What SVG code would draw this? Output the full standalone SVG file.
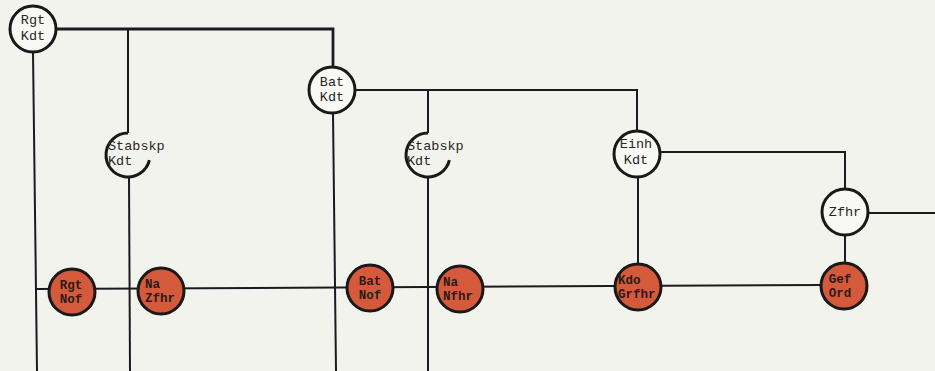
<svg xmlns="http://www.w3.org/2000/svg" width="935" height="371" viewBox="0 0 935 371">
<style>
.ln{stroke:#1c1a1e;stroke-width:2;fill:none;stroke-linecap:square}
.heavy{stroke-width:2.8}
.wc{fill:#f8f8f4;stroke:#1a1818;stroke-width:3}
.arc{fill:none;stroke:#1a1818;stroke-width:3}
.rc{fill:#d55a3c;stroke:#1a1818;stroke-width:3}
.t{font-family:"Liberation Mono","DejaVu Sans Mono",monospace;font-size:13.5px;fill:#2a2628}
.tb{font-family:"Liberation Mono","DejaVu Sans Mono",monospace;font-size:12.5px;font-weight:bold;fill:#2a1a18}
.m{text-anchor:middle}
</style>
<rect width="935" height="371" fill="#f3f3ee"/>
<g id="connectors">
<polyline class="ln heavy" points="55,29 333,29 333,67"/>
<line class="ln" x1="128" y1="29" x2="128" y2="132"/>
<line class="ln" x1="33" y1="52" x2="37" y2="371"/>
<line class="ln" x1="129" y1="177" x2="130" y2="371"/>
<polyline class="ln" points="356,90 637,90 637,130"/>
<line class="ln" x1="428" y1="90" x2="428" y2="132"/>
<line class="ln" x1="333" y1="113" x2="336" y2="371"/>
<line class="ln" x1="428" y1="177" x2="428" y2="371"/>
<polyline class="ln" points="660,152 845,152 845,189"/>
<line class="ln" x1="638" y1="178" x2="638" y2="264"/>
<line class="ln" x1="868" y1="213" x2="935" y2="213"/>
<line class="ln" x1="845" y1="235" x2="845" y2="262"/>
<line class="ln" x1="36" y1="289" x2="822" y2="285"/>
</g>
<g id="rgt-kdt">
<circle class="wc" cx="33" cy="29" r="23"/>
<text class="t m" x="33" y="24">Rgt</text>
<text class="t m" x="33" y="40">Kdt</text>
</g>
<g id="bat-kdt">
<circle class="wc" cx="332" cy="90" r="23"/>
<text class="t m" x="332" y="86">Bat</text>
<text class="t m" x="332" y="101">Kdt</text>
</g>
<g id="stabskp-kdt-1">
<path class="arc" d="M149.4,160.2 A22,22 0 1 1 128,133"/>
<text class="t" x="108" y="150">Stabskp</text>
<text class="t" x="108" y="165">Kdt</text>
</g>
<g id="stabskp-kdt-2">
<path class="arc" d="M449.4,160.2 A22,22 0 1 1 428,133"/>
<text class="t" x="407" y="150">Stabskp</text>
<text class="t" x="407" y="165">Kdt</text>
</g>
<g id="einh-kdt">
<circle class="wc" cx="637" cy="154" r="23"/>
<text class="t m" x="636" y="148">Einh</text>
<text class="t m" x="636" y="164">Kdt</text>
</g>
<g id="zfhr">
<circle class="wc" cx="845" cy="212" r="23"/>
<text class="t m" x="845" y="216">Zfhr</text>
</g>
<g id="rgt-nof">
<circle class="rc" cx="72" cy="292" r="23"/>
<text class="tb m" x="71" y="289">Rgt</text>
<text class="tb m" x="71" y="303">Nof</text>
</g>
<g id="na-zfhr">
<circle class="rc" cx="161" cy="291" r="23"/>
<text class="tb" x="145" y="288">Na</text>
<text class="tb" x="145" y="302">Zfhr</text>
</g>
<g id="bat-nof">
<circle class="rc" cx="370" cy="288" r="23"/>
<text class="tb m" x="370" y="285">Bat</text>
<text class="tb m" x="370" y="299">Nof</text>
</g>
<g id="na-nfhr">
<circle class="rc" cx="460" cy="289" r="23"/>
<text class="tb" x="443" y="286">Na</text>
<text class="tb" x="443" y="300">Nfhr</text>
</g>
<g id="kdo-grfhr">
<circle class="rc" cx="638" cy="287" r="23"/>
<text class="tb" x="618" y="284">Kdo</text>
<text class="tb" x="618" y="298">Grfhr</text>
</g>
<g id="gef-ord">
<circle class="rc" cx="844" cy="286" r="23"/>
<text class="tb m" x="840" y="283">Gef</text>
<text class="tb m" x="840" y="297">Ord</text>
</g>
</svg>
